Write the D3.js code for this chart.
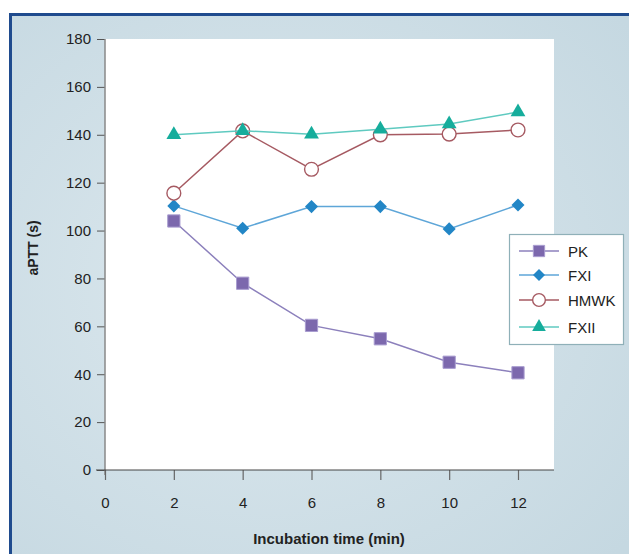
<!DOCTYPE html>
<html>
<head>
<meta charset="utf-8">
<script src="https://cdn.jsdelivr.net/npm/d3@7"></script>
<style>
  html, body { margin: 0; padding: 0; background: #ffffff; }
  svg { display: block; font-family: Arial, "Liberation Sans", sans-serif; }
</style>
</head>
<body>
<svg id="chart" width="629" height="554"></svg>
<script>
// Incubation times (min)
const times = [2, 4, 6, 8, 10, 12];
// aPTT (s) for each factor
const pk   = [104, 78, 60.4, 54.8, 45, 40.6];
const fxi  = [110.3, 101, 110, 110, 100.7, 110.7];
const hmwk = [115.6, 141.6, 125.6, 140, 140.3, 142];
const fxii = [140, 141.7, 140.2, 142.3, 144.5, 149.5];

const seriesNames = ["PK", "FXI", "HMWK", "FXII"];
const xTicks = [0, 2, 4, 6, 8, 10, 12];
const yTicks = [0, 20, 40, 60, 80, 100, 120, 140, 160, 180];

const svg = d3.select("#chart");
const W = 629, H = 554;

// panel background
const defs = svg.append("defs");
const grad = defs.append("radialGradient").attr("id", "bg")
  .attr("cx", "0.42").attr("cy", "0.5").attr("r", "0.75");
grad.append("stop").attr("offset", "0").attr("stop-color", "#dce8ee");
grad.append("stop").attr("offset", "1").attr("stop-color", "#c5d8e1");
svg.append("rect").attr("x", 9).attr("y", 13).attr("width", W - 9).attr("height", H - 13)
  .attr("fill", "url(#bg)");
// frame edges (top and left)
svg.append("rect").attr("x", 9).attr("y", 13).attr("width", W - 9).attr("height", 3).attr("fill", "#1f4b8e");
svg.append("rect").attr("x", 9).attr("y", 13).attr("width", 3).attr("height", H - 13).attr("fill", "#1f4b8e");

const x = d3.scaleLinear().domain([0, 12]).range([105, 518]);
const y = d3.scaleLinear().domain([0, 180]).range([470, 39]);

// white plotting area
svg.append("rect").attr("x", x(0)).attr("y", y(180))
  .attr("width", 554 - x(0)).attr("height", y(0) - y(180)).attr("fill", "#ffffff");

// y axis
const yAxis = d3.axisLeft(y).tickValues(yTicks).tickSize(8).tickPadding(6).tickSizeOuter(0);
const gy = svg.append("g").attr("transform", `translate(${x(0)},0)`).call(yAxis);
gy.select(".domain").remove();
gy.selectAll(".tick line").attr("stroke", "#555").attr("stroke-width", 1);
gy.selectAll(".tick text").attr("font-size", 15).attr("fill", "#222");
svg.append("line").attr("x1", x(0)).attr("x2", x(0)).attr("y1", y(180)).attr("y2", y(0) + 5)
  .attr("stroke", "#888").attr("stroke-width", 1.5);

// x axis
const xAxis = d3.axisBottom(x).tickValues(xTicks).tickSize(10).tickPadding(17).tickSizeOuter(0);
const gx = svg.append("g").attr("transform", `translate(0,${y(0)})`).call(xAxis);
gx.select(".domain").remove();
gx.selectAll(".tick line").attr("stroke", "#666").attr("stroke-width", 1.2);
gx.selectAll(".tick text").attr("font-size", 15).attr("fill", "#222");
svg.append("line").attr("x1", 96).attr("x2", 554).attr("y1", y(0)).attr("y2", y(0))
  .attr("stroke", "#444").attr("stroke-width", 1);

// axis titles
svg.append("text").attr("x", 329).attr("y", 544).attr("text-anchor", "middle")
  .attr("font-size", 15).attr("font-weight", "bold").attr("fill", "#222")
  .text("Incubation time (min)");
svg.append("text").attr("transform", "translate(38,248) rotate(-90)")
  .attr("text-anchor", "middle").attr("font-size", 14).attr("font-weight", "bold").attr("fill", "#222")
  .text("aPTT (s)");

// rotated-square diamond
const squareDiamond = {
  draw(ctx, size) {
    const r = Math.sqrt(size) / 2 * Math.SQRT2;
    ctx.moveTo(0, -r); ctx.lineTo(r, 0); ctx.lineTo(0, r); ctx.lineTo(-r, 0); ctx.closePath();
  }
};

const styles = {
  PK:   { line: "#8c80bc", fill: "#7c68ad", stroke: "#a99dd0", shape: d3.symbolSquare,   size: 150, sw: 1 },
  FXI:  { line: "#5ea6d8", fill: "#2286c6", stroke: "#2286c6", shape: squareDiamond,     size: 85,  sw: 0 },
  HMWK: { line: "#a65a62", fill: "#ffffff", stroke: "#a65a62", shape: d3.symbolCircle,   size: 150, sw: 1.4 },
  FXII: { line: "#5fcac0", fill: "#16ad9c", stroke: "#16ad9c", shape: d3.symbolTriangle, size: 95,  sw: 0 }
};
const values = { PK: pk, FXI: fxi, HMWK: hmwk, FXII: fxii };

const line = d3.line().x(d => x(d[0])).y(d => y(d[1]));

seriesNames.forEach(name => {
  const st = styles[name];
  const pts = times.map((t, i) => [t, values[name][i]]);
  svg.append("path").datum(pts).attr("d", line)
    .attr("fill", "none").attr("stroke", st.line).attr("stroke-width", 1.5);
  svg.append("g").selectAll("path").data(pts).join("path")
    .attr("transform", d => `translate(${x(d[0])},${y(d[1])})`)
    .attr("d", d3.symbol().type(st.shape).size(st.size))
    .attr("fill", st.fill).attr("stroke", st.stroke).attr("stroke-width", st.sw);
});

// legend
const lg = svg.append("g");
lg.append("rect").attr("x", 509.5).attr("y", 234.5).attr("width", 114).attr("height", 110)
  .attr("fill", "#ffffff").attr("stroke", "#8fb0b8").attr("stroke-width", 1.2);
const rowY = [251, 275, 300, 327];
seriesNames.forEach((name, i) => {
  const st = styles[name];
  const yy = rowY[i];
  lg.append("line").attr("x1", 519).attr("x2", 559).attr("y1", yy).attr("y2", yy)
    .attr("stroke", st.line).attr("stroke-width", 1.5);
  lg.append("path").attr("transform", `translate(539,${yy})`)
    .attr("d", d3.symbol().type(st.shape).size(st.size * 0.85))
    .attr("fill", st.fill).attr("stroke", st.stroke).attr("stroke-width", st.sw);
  lg.append("text").attr("x", 568).attr("y", yy + 5.5).attr("font-size", 15).attr("fill", "#222")
    .text(name);
});
</script>
</body>
</html>
